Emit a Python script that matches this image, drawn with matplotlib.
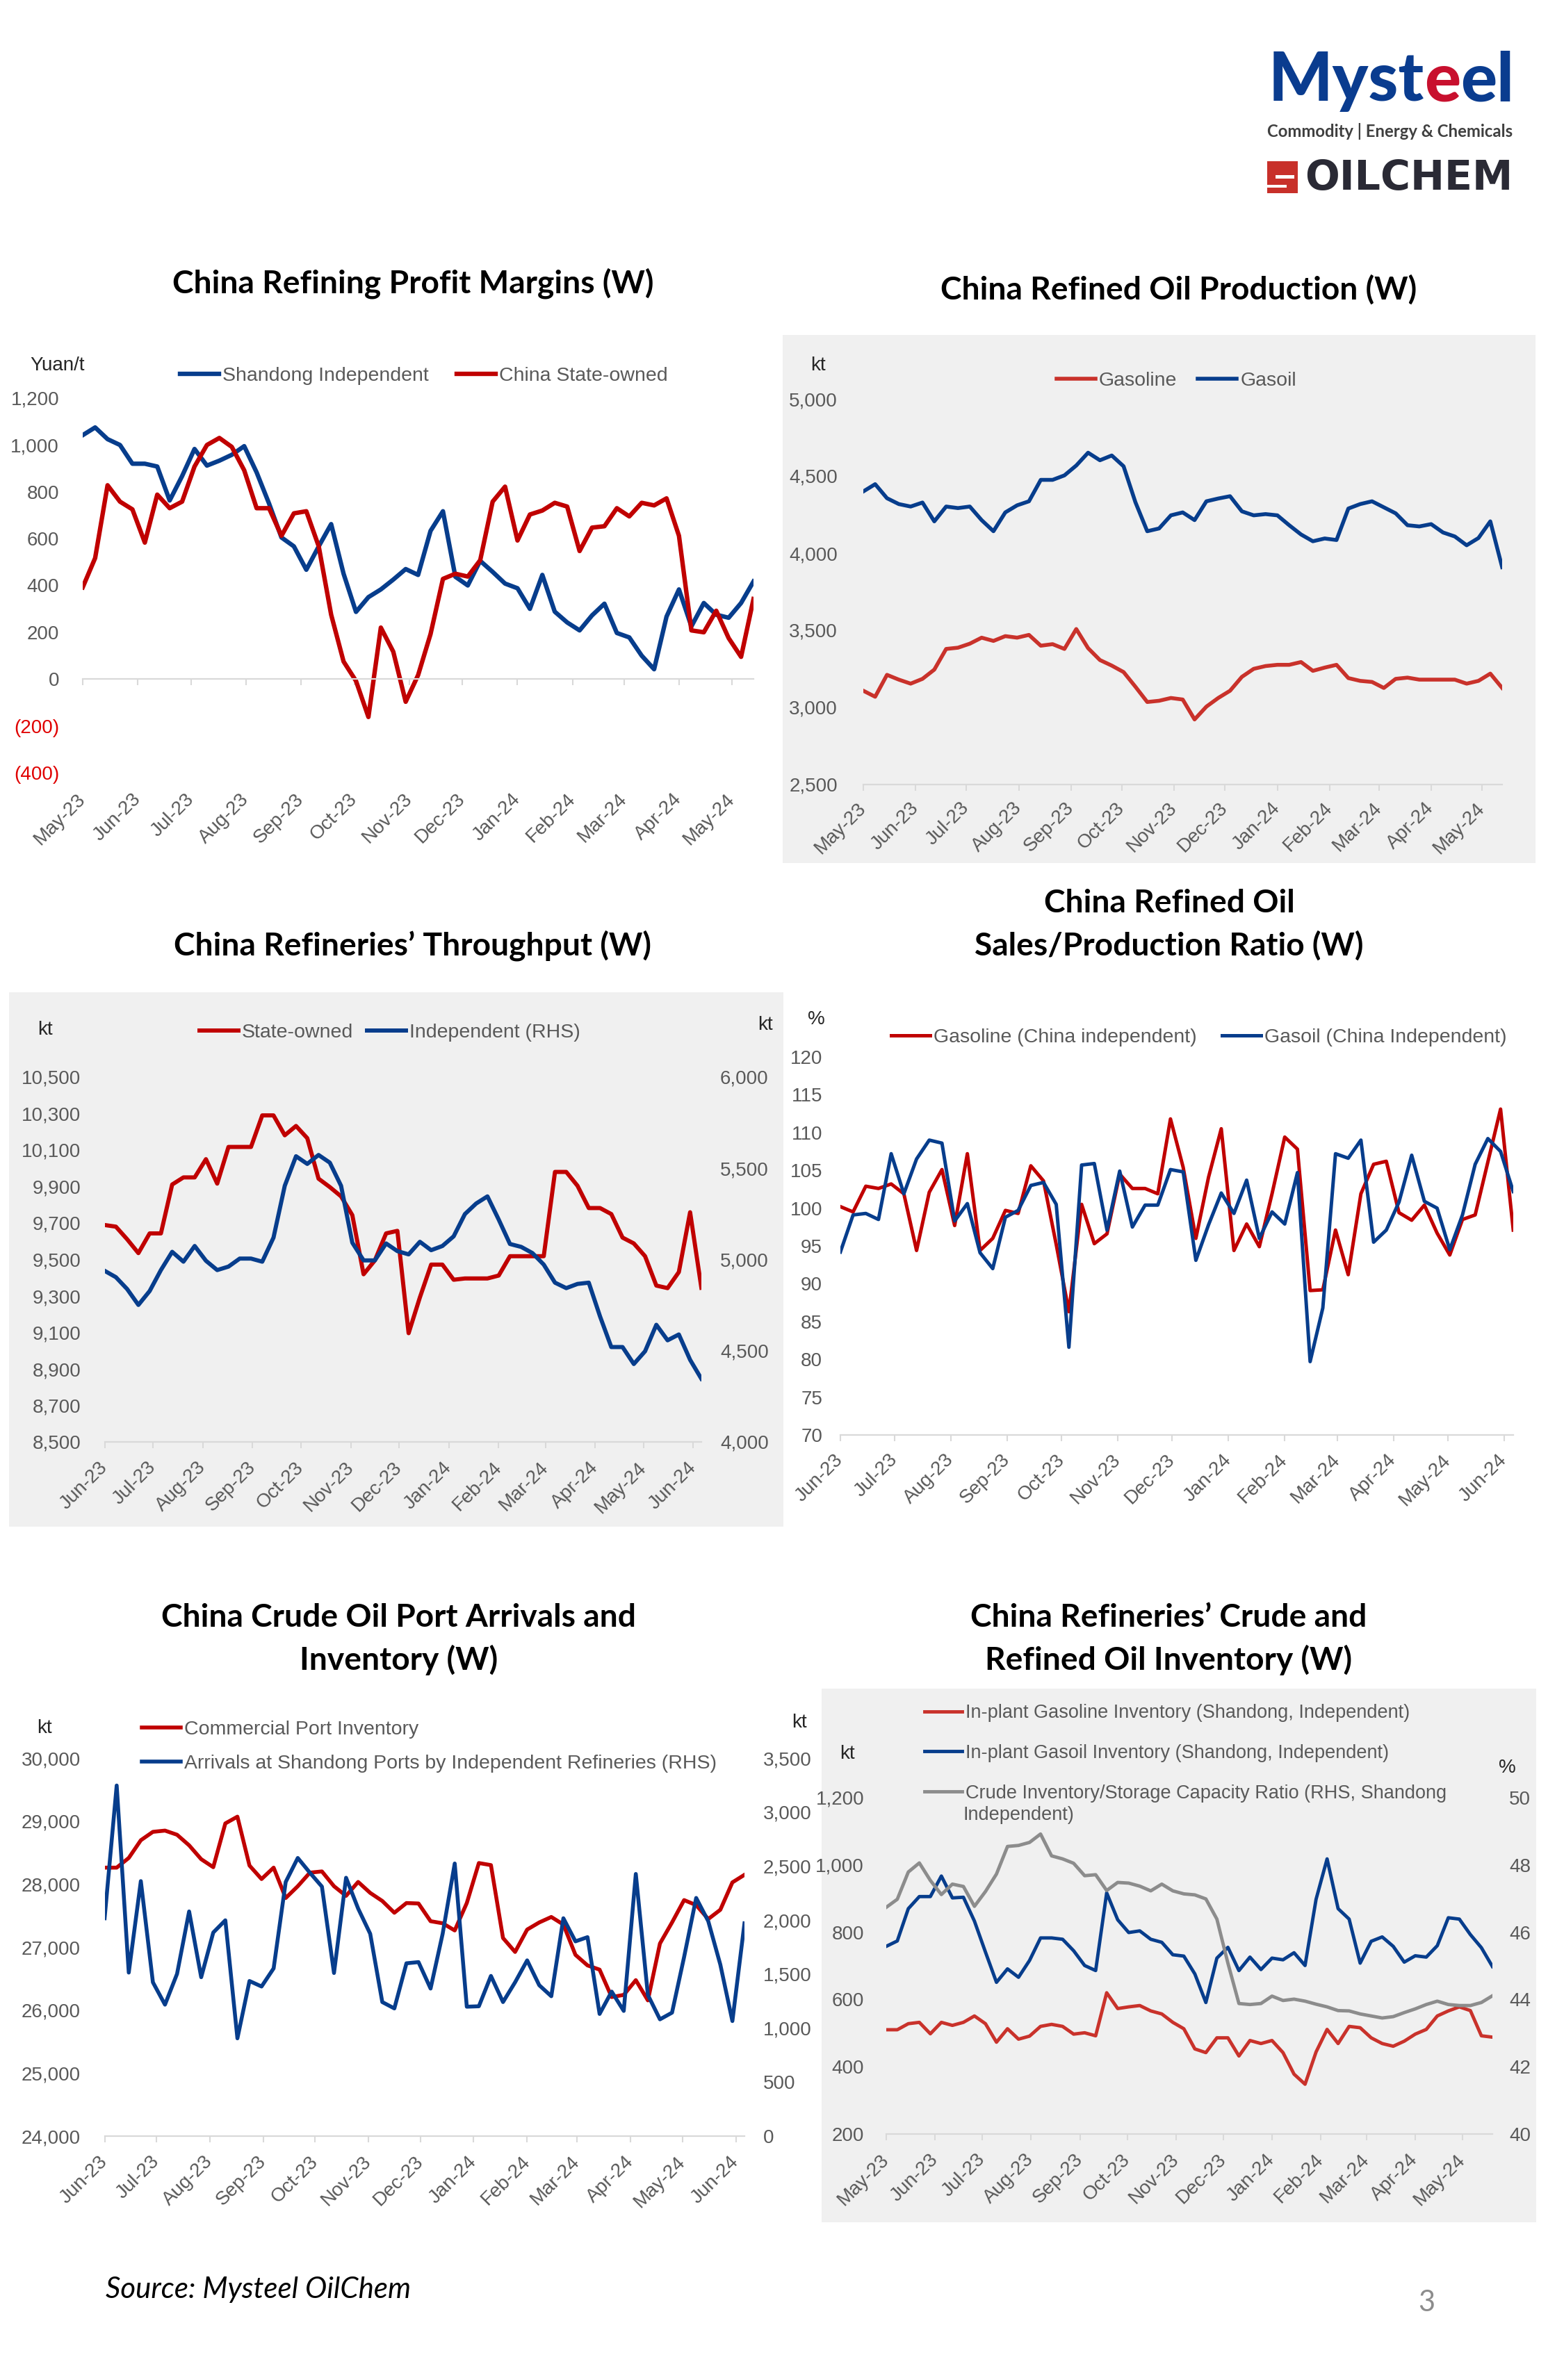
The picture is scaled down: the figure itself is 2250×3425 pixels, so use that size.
import matplotlib
matplotlib.use('Agg')
import matplotlib.pyplot as plt
import matplotlib.dates as mdates
from matplotlib.patches import Rectangle
import pandas as pd

plt.rcParams['font.family'] = ['Liberation Sans', 'DejaVu Sans']

W, H, DPI = 2250, 3425, 100

# ---------------------------------------------------------------- data
weeks_may = pd.date_range('2023-05-01', periods=55, freq='7D')   # panels 1-2
weeks_jun = pd.date_range('2023-06-01', periods=54, freq='7D')   # panels 3-5
weeks_inv = pd.date_range('2023-05-01', periods=56, freq='7D')   # panel 6
months_may = pd.date_range('2023-05-01', '2024-05-01', freq='MS')
months_jun = pd.date_range('2023-06-01', '2024-06-01', freq='MS')

margin_shandong_independent = [1042, 1075, 1025, 1000, 920, 920, 908, 763, 867, 983, 912, 933, 958, 995, 883,
                               750, 605, 567, 467, 567, 662, 450, 287, 350, 383, 425, 470, 445, 633, 717,
                               437, 400, 505, 458, 408, 388, 300, 445, 288, 242, 208, 272, 322, 197, 178,
                               100, 42, 267, 383, 225, 325, 275, 262, 325, 417]
margin_china_state = [392, 517, 828, 758, 725, 583, 788, 730, 758, 908, 1000, 1030, 992, 892, 730,
                      730, 612, 708, 717, 567, 275, 75, -8, -162, 220, 117, -97, 17, 192, 428,
                      450, 438, 508, 758, 822, 592, 703, 720, 753, 737, 547, 647, 653, 730, 695,
                      753, 742, 772, 612, 208, 200, 292, 175, 95, 342]

gasoline_production = [3108, 3069, 3211, 3180, 3154, 3185, 3245, 3379, 3387, 3413, 3452, 3431, 3462, 3452,
                       3470, 3400, 3410, 3379, 3508, 3384, 3307, 3271, 3229, 3134, 3035, 3043, 3061, 3051,
                       2922, 3005, 3061, 3108, 3198, 3250, 3268, 3276, 3276, 3294, 3237, 3258, 3276, 3190,
                       3172, 3165, 3126, 3185, 3193, 3180, 3180, 3180, 3180, 3154, 3172, 3219, 3126]
gasoil_production = [4400, 4447, 4356, 4318, 4302, 4328, 4206, 4302, 4292, 4302, 4214, 4142, 4264, 4310,
                     4336, 4475, 4475, 4504, 4568, 4651, 4602, 4633, 4563, 4330, 4142, 4160, 4245, 4264,
                     4214, 4336, 4354, 4369, 4271, 4245, 4253, 4245, 4181, 4121, 4077, 4095, 4085, 4289,
                     4318, 4336, 4297, 4258, 4181, 4173, 4188, 4134, 4108, 4051, 4098, 4206, 3909]

throughput_state = [9689, 9680, 9611, 9535, 9643, 9643, 9911, 9950, 9950, 10050, 9916, 10117, 10117, 10117,
                    10290, 10290, 10181, 10232, 10165, 9943, 9897, 9846, 9743, 9419, 9495, 9643, 9657,
                    9096, 9292, 9472, 9472, 9389, 9396, 9396, 9396, 9412, 9518, 9518, 9518, 9518, 9980,
                    9980, 9904, 9782, 9782, 9749, 9620, 9588, 9518, 9357, 9343, 9431, 9759, 9345]
throughput_independent = [4938, 4903, 4838, 4751, 4827, 4942, 5042, 4988, 5074, 4993, 4942, 4961, 5005, 5005,
                          4988, 5120, 5404, 5566, 5524, 5573, 5531, 5404, 5092, 4995, 4995, 5088, 5046,
                          5028, 5097, 5051, 5074, 5127, 5249, 5307, 5346, 5219, 5085, 5069, 5035, 4972,
                          4873, 4843, 4866, 4873, 4688, 4520, 4520, 4427, 4497, 4642, 4557, 4589, 4450, 4346]

ratio_gasoline = [100.2, 99.5, 102.9, 102.6, 103.2, 101.9, 94.4, 102.1, 105.1, 97.7, 107.2, 94.4, 96.0, 99.7,
                  99.3, 105.6, 103.6, 95.2, 86.3, 100.5, 95.3, 96.6, 104.5, 102.6, 102.6, 101.9, 111.8,
                  105.4, 96.0, 104.1, 110.5, 94.4, 97.9, 94.9, 101.9, 109.4, 107.8, 89.1, 89.2, 97.1,
                  91.2, 101.9, 105.8, 106.2, 99.4, 98.4, 100.4, 96.7, 93.8, 98.5, 99.1, 106.1, 113.1, 97.1]
ratio_gasoil = [94.2, 99.1, 99.3, 98.5, 107.2, 101.9, 106.5, 109.0, 108.6, 98.3, 100.6, 94.1, 92.0, 98.8,
                99.7, 103.0, 103.4, 100.5, 81.6, 105.7, 105.9, 97.1, 104.9, 97.5, 100.4, 100.4, 105.1,
                104.8, 93.1, 97.8, 102.0, 99.3, 103.7, 96.0, 99.5, 97.9, 104.7, 79.7, 86.8, 107.2,
                106.6, 109.0, 95.5, 97.1, 100.8, 107.0, 100.9, 100.0, 94.5, 99.1, 105.8, 109.2, 107.5, 102.2]

port_inventory = [28261, 28261, 28415, 28696, 28829, 28849, 28783, 28615, 28395, 28268, 28963, 29070, 28294,
                  28080, 28261, 27779, 27966, 28181, 28201, 27966, 27813, 28034, 27860, 27732, 27545, 27699,
                  27692, 27411, 27378, 27264, 27699, 28334, 28301, 27144, 26923, 27278, 27391, 27478, 27358,
                  26877, 26709, 26642, 26207, 26241, 26475, 26154, 27057, 27391, 27746, 27666, 27445, 27592,
                  28027, 28147]
shandong_arrivals = [2017, 3246, 1514, 2361, 1424, 1217, 1502, 2080, 1471, 1885, 1998, 905, 1436, 1385, 1553,
                     2353, 2575, 2439, 2310, 1510, 2392, 2107, 1873, 1241, 1182, 1600, 1611, 1366, 1873,
                     2524, 1198, 1202, 1483, 1241, 1424, 1627, 1397, 1295, 2017, 1803, 1842, 1131, 1338,
                     1159, 2427, 1307, 1081, 1143, 1658, 2205, 1990, 1588, 1065, 1970]

gasoline_inventory = [510, 510, 528, 532, 498, 532, 523, 532, 551, 528, 473, 513, 482, 491, 520, 526, 520, 497,
                      501, 492, 620, 573, 578, 582, 566, 557, 532, 513, 453, 442, 486, 486, 432, 478, 469,
                      478, 442, 378, 348, 444, 511, 469, 520, 516, 486, 469, 461, 476, 497, 511, 551, 566,
                      578, 567, 492, 488]
gasoil_inventory = [758, 774, 870, 906, 906, 967, 902, 904, 833, 741, 651, 691, 666, 716, 783, 783, 779, 745,
                    701, 686, 917, 837, 799, 804, 779, 770, 733, 729, 676, 591, 723, 755, 686, 726, 689, 723,
                    718, 739, 701, 898, 1018, 870, 839, 708, 773, 786, 758, 711, 730, 726, 760, 843, 839,
                    793, 754, 698]
crude_storage_ratio = [46.74, 46.98, 47.79, 48.06, 47.54, 47.12, 47.43, 47.36, 46.77, 47.21, 47.73, 48.55,
                       48.58, 48.67, 48.92, 48.27, 48.18, 48.05, 47.68, 47.71, 47.24, 47.48, 47.46, 47.37,
                       47.23, 47.43, 47.23, 47.14, 47.11, 46.99, 46.39, 45.08, 43.88, 43.85, 43.88, 44.10,
                       43.97, 44.01, 43.95, 43.86, 43.78, 43.67, 43.66, 43.57, 43.51, 43.45, 43.49, 43.61,
                       43.72, 43.85, 43.95, 43.85, 43.82, 43.82, 43.91, 44.11]

titles = ["China Refining Profit Margins (W)",
          "China Refined Oil Production (W)",
          "China Refineries\u2019 Throughput (W)",
          "China Refined Oil\nSales/Production Ratio (W)",
          "China Crude Oil Port Arrivals and\nInventory (W)",
          "China Refineries\u2019 Crude and\nRefined Oil Inventory (W)"]

# ---------------------------------------------------------------- style
RED = '#C00000'
RED2 = '#C9322B'
BLUE = '#073D8C'
GREY_LINE = '#8C8C8C'
BG = '#F0F0F0'
AXC = '#D9D9D9'
TXT = '#595959'
UNIT = '#262626'
TICK_FS = 20
LEG_FS = 20.5
TITLE_FONT = 'Lato'

fig = plt.figure(figsize=(W / DPI, H / DPI), dpi=DPI)
fig.patch.set_facecolor('white')
renderer = fig.canvas.get_renderer()


def fx(px):
    return px / W


def fy(py):
    return 1 - py / H


def pt(px):
    return px * 72.0 / DPI


def add_ax(x0, x1, ytop, ybot):
    ax = fig.add_axes([fx(x0), fy(ybot), (x1 - x0) / W, (ybot - ytop) / H])
    ax.set_facecolor('none')
    for s in ax.spines.values():
        s.set_visible(False)
    return ax


def twin(ax):
    a = ax.twinx()
    a.set_facecolor('none')
    for s in a.spines.values():
        s.set_visible(False)
    return a


def gray_box(x0, y0, x1, y1):
    fig.add_artist(Rectangle((fx(x0), fy(y1)), (x1 - x0) / W, (y1 - y0) / H,
                             transform=fig.transFigure, facecolor=BG, edgecolor='none', zorder=-10))


def style_x(ax, ticks, first, last, at_zero=False, drop_px=32):
    ax.set_xlim(first, last)
    ax.set_xticks(ticks)
    ax.xaxis.set_major_formatter(mdates.DateFormatter('%b-%y'))
    sp = ax.spines['bottom']
    sp.set_visible(True)
    sp.set_color(AXC)
    sp.set_linewidth(1.6)
    if at_zero:
        sp.set_position(('data', 0))
    tl = 9
    ax.tick_params(axis='x', direction='out', length=pt(tl), width=1.5, color=AXC,
                   pad=pt(drop_px - tl), labelsize=TICK_FS, labelcolor=TXT)
    plt.setp(ax.get_xticklabels(), rotation=45, ha='right', va='center', rotation_mode='anchor')


def style_y(ax, ticks, lo, hi, pad_px, fmt=lambda v: f'{v:,.0f}'):
    ax.set_ylim(lo, hi)
    ax.set_yticks(ticks)
    ax.set_yticklabels([fmt(v) for v in ticks])
    ax.tick_params(axis='y', length=0, pad=pt(pad_px), labelsize=TICK_FS, labelcolor=TXT)


def legend(ax, handles, labels, x_px, y_px, ncol=1, loc='center left', fs=LEG_FS,
           handle_px=56, textpad_px=5, colspace_px=40, labelspacing=0.5):
    fpx = fs * DPI / 72.0
    return ax.legend(handles, labels, loc=loc, bbox_to_anchor=(fx(x_px), fy(y_px)),
                     bbox_transform=fig.transFigure, ncol=ncol, frameon=False,
                     prop={'family': 'Liberation Sans', 'size': fs}, labelcolor=TXT,
                     handlelength=handle_px / fpx, handletextpad=textpad_px / fpx,
                     columnspacing=colspace_px / fpx, borderpad=0, borderaxespad=0,
                     labelspacing=labelspacing)


def unit(x, y, s):
    fig.text(fx(x), fy(y), s, ha='center', va='center', fontsize=TICK_FS, color=UNIT)


def fit_size(s, target_px, size0=30, **kw):
    t = fig.text(0, 0, s, fontsize=size0, **kw)
    w = t.get_window_extent(renderer=renderer).width
    t.remove()
    return size0 * target_px / w


TITLE_FS = fit_size(titles[0], 691, family=TITLE_FONT, fontweight='bold')


def title(x, y, s):
    fig.text(fx(x), fy(y), s, ha='center', va='center', fontsize=TITLE_FS, fontweight='bold',
             family=TITLE_FONT, color='black', linespacing=1.5)


# ---------------------------------------------------------------- panel 1
title(594, 408, titles[0])
ax1 = add_ax(119, 1084, 573, 1112)
h_ind, = ax1.plot(weeks_may, margin_shandong_independent, color=BLUE, lw=4.6, solid_joinstyle='round')
h_st, = ax1.plot(weeks_may, margin_china_state, color=RED, lw=4.6, solid_joinstyle='round')
style_y(ax1, list(range(-400, 1201, 200)), -400, 1200, 34,
        fmt=lambda v: f'({abs(v):,})' if v < 0 else f'{v:,}')
for lbl, v in zip(ax1.get_yticklabels(), range(-400, 1201, 200)):
    if v < 0:
        lbl.set_color('#E00000')
style_x(ax1, months_may, weeks_may[0], weeks_may[-1], at_zero=True, drop_px=169)
legend(ax1, [h_ind, h_st], ['Shandong Independent', 'China State-owned'], 259, 541, ncol=2, colspace_px=40)
unit(83, 526, 'Yuan/t')

# ---------------------------------------------------------------- panel 2
gray_box(1126, 482, 2209, 1242)
title(1696, 417, titles[1])
ax2 = add_ax(1242, 2161, 574, 1129)
h_gl, = ax2.plot(weeks_may, gasoline_production, color=RED2, lw=4.0, solid_joinstyle='round')
h_go, = ax2.plot(weeks_may, gasoil_production, color=BLUE, lw=4.0, solid_joinstyle='round')
style_y(ax2, list(range(2500, 5001, 500)), 2500, 5000, 37)
style_x(ax2, months_may, weeks_may[0], weeks_may[-1], drop_px=30)
legend(ax2, [h_gl, h_go], ['Gasoline', 'Gasoil'], 1520, 548, ncol=2, colspace_px=30)
unit(1177, 526, 'kt')

# ---------------------------------------------------------------- panel 3
gray_box(13, 1428, 1127, 2197)
title(593, 1361, titles[2])
ax3 = add_ax(150.5, 1009, 1550, 2075)
ax3r = twin(ax3)
h_so, = ax3.plot(weeks_jun, throughput_state, color=RED, lw=4.3, solid_joinstyle='round')
h_in, = ax3r.plot(weeks_jun, throughput_independent, color=BLUE, lw=4.3, solid_joinstyle='round')
style_y(ax3, list(range(8500, 10501, 200)), 8500, 10500, 34.5)
style_y(ax3r, list(range(4000, 6001, 500)), 4000, 6000, 27)
style_x(ax3, months_jun, weeks_jun[0], weeks_jun[-1], drop_px=33)
legend(ax3r, [h_so, h_in], ['State-owned', 'Independent (RHS)'], 287, 1486, ncol=2, colspace_px=20)
unit(65, 1482, 'kt')
unit(1101, 1475, 'kt')

# ---------------------------------------------------------------- panel 4
title(1682, 1331, titles[3])
ax4 = add_ax(1209, 2177, 1521, 2065)
h_rg, = ax4.plot(weeks_jun, ratio_gasoline, color=RED, lw=3.6, solid_joinstyle='round')
h_rd, = ax4.plot(weeks_jun, ratio_gasoil, color=BLUE, lw=3.6, solid_joinstyle='round')
style_y(ax4, list(range(70, 121, 5)), 70, 120, 26)
style_x(ax4, months_jun, weeks_jun[0], weeks_jun[-1], drop_px=32)
legend(ax4, [h_rg, h_rd], ['Gasoline (China independent)', 'Gasoil (China Independent)'],
       1282, 1493, ncol=2, colspace_px=36)
unit(1174, 1467, '%')

# ---------------------------------------------------------------- panel 5
title(574, 2359, titles[4])
ax5 = add_ax(150.5, 1071, 2530, 3074)
ax5r = twin(ax5)
h_pi, = ax5.plot(weeks_jun, port_inventory, color=RED, lw=4.0, solid_joinstyle='round')
h_ar, = ax5r.plot(weeks_jun, shandong_arrivals, color=BLUE, lw=4.0, solid_joinstyle='round')
style_y(ax5, list(range(24000, 30001, 1000)), 24000, 30000, 34.5)
style_y(ax5r, list(range(0, 3501, 500)), 0, 3500, 27)
style_x(ax5, months_jun, weeks_jun[0], weeks_jun[-1], drop_px=33)
legend(ax5r, [h_pi, h_ar], ['Commercial Port Inventory',
                            'Arrivals at Shandong Ports by Independent Refineries (RHS)'],
       204, 2487 - 11, loc='upper left', labelspacing=0.8)
unit(64, 2487, 'kt')
unit(1150, 2479, 'kt')

# ---------------------------------------------------------------- panel 6
gray_box(1182, 2430, 2210, 3198)
title(1681, 2359, titles[5])
ax6 = add_ax(1275, 2147, 2587, 3071)
ax6r = twin(ax6)
h_gi, = ax6.plot(weeks_inv, gasoline_inventory, color=RED2, lw=3.5, solid_joinstyle='round')
h_di, = ax6.plot(weeks_inv, gasoil_inventory, color=BLUE, lw=3.5, solid_joinstyle='round')
h_cr, = ax6r.plot(weeks_inv, crude_storage_ratio, color=GREY_LINE, lw=3.5, solid_joinstyle='round')
style_y(ax6, list(range(200, 1201, 200)), 200, 1200, 32)
style_y(ax6r, list(range(40, 51, 2)), 40, 50, 24)
style_x(ax6, months_may, weeks_inv[0], weeks_inv[-1], drop_px=33)
legend(ax6r, [h_gi, h_di, h_cr],
       ['In-plant Gasoline Inventory (Shandong, Independent)',
        'In-plant Gasoil Inventory (Shandong, Independent)',
        'Crude Inventory/Storage Capacity Ratio (RHS, Shandong'],
       1330, 2464 - 12, loc='upper left', fs=19.5, labelspacing=1.18, handle_px=54)
fig.text(fx(1386), fy(2612), 'Independent)', ha='left', va='center', fontsize=19.5, color=TXT)
unit(1219, 2524, 'kt')
unit(2168, 2544, '%')

# ---------------------------------------------------------------- footer
fs_src = fit_size('Source: Mysteel OilChem', 438, family='Lato', style='italic')
fig.text(fx(152), fy(3295), 'Source: Mysteel OilChem', ha='left', va='center', fontsize=fs_src,
         family='Lato', style='italic', color='black')
fig.text(fx(2052), fy(3314), '3', ha='center', va='center', fontsize=30, family='Lato',
         color='#8C8C8C')

# ---------------------------------------------------------------- logo
LOGO_BLUE = '#0A3C8F'
LOGO_RED = '#C8102E'
parts = [('Myst', LOGO_BLUE), ('e', LOGO_RED), ('el', LOGO_BLUE)]
fs_logo = fit_size('Mysteel', 352, family='Lato', fontweight='black')
x = 1825
for s, c in parts:
    t = fig.text(fx(x), fy(145), s, ha='left', va='baseline', fontsize=fs_logo, family='Lato',
                 fontweight='black', color=c)
    x += t.get_window_extent(renderer=renderer).width
fs_com = fit_size('Commodity | Energy & Chemicals', 354, family='Lato', fontweight='bold')
fig.text(fx(1823), fy(189), 'Commodity | Energy & Chemicals', ha='left', va='center', fontsize=fs_com,
         family='Lato', fontweight='bold', color='#404040')
fig.add_artist(Rectangle((fx(1823), fy(278)), 44 / W, 46 / H, transform=fig.transFigure,
                         facecolor='#C8302A', edgecolor='none'))
fig.add_artist(Rectangle((fx(1835), fy(257)), 27 / W, 5 / H, transform=fig.transFigure,
                         facecolor='white', edgecolor='none'))
fig.add_artist(Rectangle((fx(1823), fy(270)), 28 / W, 4 / H, transform=fig.transFigure,
                         facecolor='white', edgecolor='none'))
fs_oil = fit_size('OILCHEM', 300, family='DejaVu Sans', fontweight='bold')
fig.text(fx(1877), fy(256), 'OILCHEM', ha='left', va='center', fontsize=fs_oil, family='DejaVu Sans',
         fontweight='bold', color='#2A2A35')

fig.savefig('out.png', dpi=DPI, facecolor='white')
